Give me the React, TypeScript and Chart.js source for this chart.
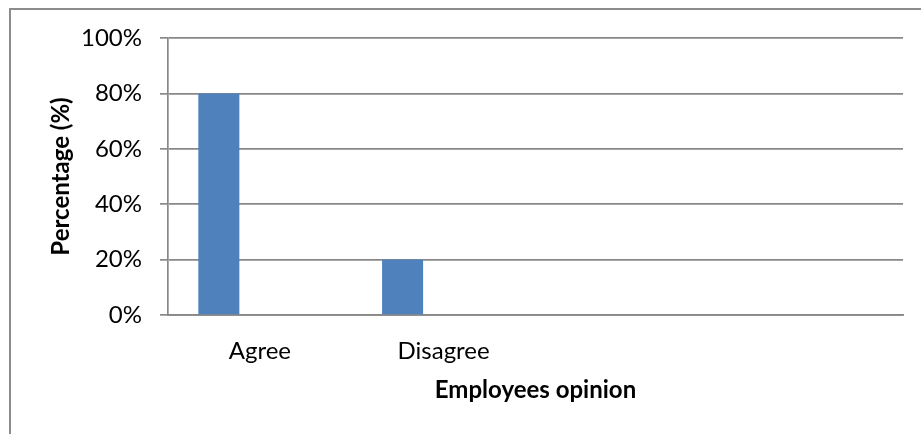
import React, { useEffect, useRef } from "react";
import { Chart, registerables } from "chart.js";

Chart.register(...registerables);

const categories = ["Agree", "Disagree", "", ""];
const seriesA = [80, 20, null, null];
const seriesB = [null, null, null, null];
const seriesC = [null, null, null, null];
const yMin = 0;
const yMax = 100;
const yStep = 20;
const xTitle = "Employees opinion";
const yTitle = "Percentage (%)";

const FONT = "Lato";

const frame = {
  id: "frame",
  afterDraw(chart: any) {
    const ctx = chart.ctx;
    ctx.save();
    ctx.strokeStyle = "#8c8c8c";
    ctx.lineWidth = 2;
    ctx.beginPath();
    ctx.moveTo(10, 434);
    ctx.lineTo(10, 9);
    ctx.lineTo(921, 9);
    ctx.stroke();
    ctx.restore();
  },
};

export default function App() {
  const ref = useRef<HTMLCanvasElement | null>(null);
  useEffect(() => {
    if (!ref.current) return;
    const chart = new Chart(ref.current, {
      type: "bar",
      data: {
        labels: categories,
        datasets: [
          { data: seriesA, backgroundColor: "#4f81bd", borderWidth: 0 },
          { data: seriesB, backgroundColor: "#c0504d", borderWidth: 0 },
          { data: seriesC, backgroundColor: "#9bbb59", borderWidth: 0 },
        ],
      },
      options: {
        animation: false,
        responsive: false,
        maintainAspectRatio: false,
        events: [],
        layout: { padding: { top: 38, right: 18, bottom: 0, left: 0 } },
        datasets: { bar: { categoryPercentage: 0.67, barPercentage: 1 } },
        plugins: { legend: { display: false }, tooltip: { enabled: false } },
        scales: {
          x: {
            grid: { display: false },
            border: { display: true, color: "#888888", width: 1.7 },
            ticks: {
              color: "#000",
              font: { family: FONT, size: 24 },
              padding: 14,
              maxRotation: 0,
              autoSkip: false,
            },
            title: {
              display: true,
              text: xTitle,
              color: "#000",
              font: { family: FONT, size: 24, weight: "bold" },
              padding: { top: 0, bottom: 29 },
            },
            afterFit: (s: any) => {
              s.height = 119;
            },
          },
          y: {
            min: yMin,
            max: yMax,
            ticks: {
              stepSize: yStep,
              color: "#000",
              font: { family: FONT, size: 24 },
              padding: 18,
              callback: (v: any) => v + "%",
            },
            grid: { color: "#888888", lineWidth: 1.7, tickLength: 8, drawTicks: true },
            border: { display: true, color: "#888888", width: 1.7 },
            title: {
              display: true,
              text: yTitle,
              color: "#000",
              font: { family: FONT, size: 24, weight: "bold" },
              padding: { top: 47, bottom: 0 },
            },
            afterFit: (s: any) => {
              s.width = 168;
            },
          },
        },
      },
      plugins: [frame],
    });
    return () => chart.destroy();
  }, []);
  return (
    <div style={{ position: "absolute", left: 0, top: 0, width: 921, height: 434, background: "#fff" }}>
      <canvas ref={ref} width={921} height={434} style={{ display: "block" }} />
    </div>
  );
}
